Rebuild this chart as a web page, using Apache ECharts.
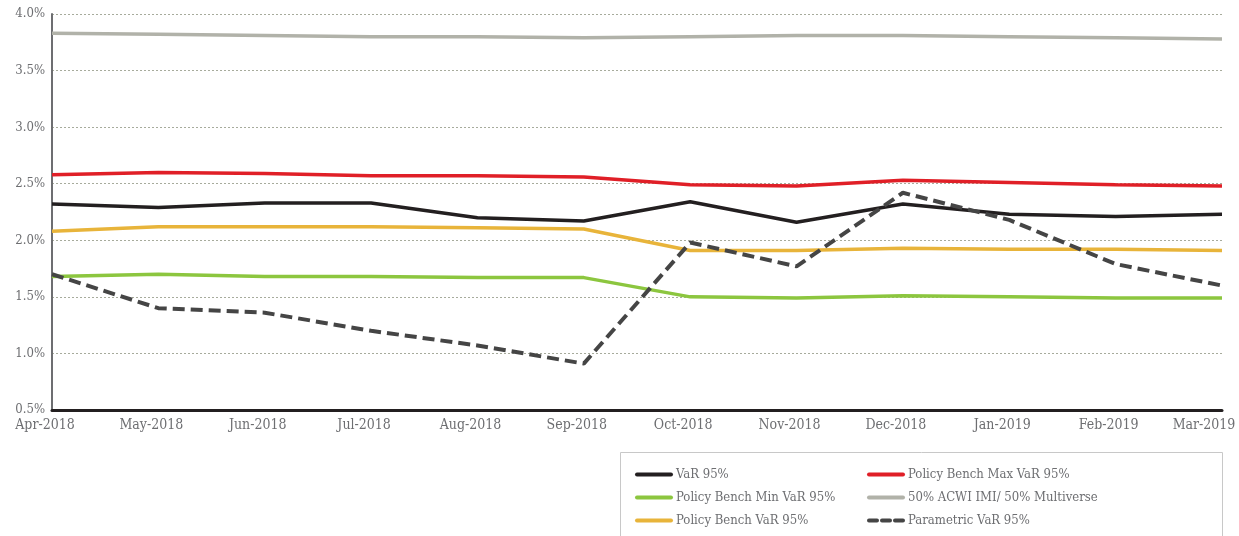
<!DOCTYPE html>
<html lang="en">
<head>
    <meta charset="UTF-8">
    <script type="text/javascript" src="https://cdn.jsdelivr.net/npm/echarts@6/dist/echarts.min.js"></script>
    <style>
        html, body { margin: 0; padding: 0; background: #fff; }
        #VarChart { width: 1239px; height: 536px; }
    </style>
</head>
<body>
    <div id="VarChart"></div>
</body>
<script>
    // months
    var months = ["Apr-2018", "May-2018", "Jun-2018", "Jul-2018", "Aug-2018", "Sep-2018",
                  "Oct-2018", "Nov-2018", "Dec-2018", "Jan-2019", "Feb-2019", "Mar-2019"];

    // values in %
    var varValues       = [2.32, 2.29, 2.33, 2.33, 2.20, 2.17, 2.34, 2.16, 2.32, 2.23, 2.21, 2.23];
    var benchMaxValues  = [2.58, 2.60, 2.59, 2.57, 2.57, 2.56, 2.49, 2.48, 2.53, 2.51, 2.49, 2.48];
    var benchMinValues  = [1.68, 1.70, 1.68, 1.68, 1.67, 1.67, 1.50, 1.49, 1.51, 1.50, 1.49, 1.49];
    var acwiValues      = [3.83, 3.82, 3.81, 3.80, 3.80, 3.79, 3.80, 3.81, 3.81, 3.80, 3.79, 3.78];
    var benchVarValues  = [2.08, 2.12, 2.12, 2.12, 2.11, 2.10, 1.91, 1.91, 1.93, 1.92, 1.92, 1.91];
    var parametricValues = [1.70, 1.40, 1.36, 1.20, 1.07, 0.91, 1.98, 1.77, 2.42, 2.18, 1.79, 1.60];

    var labelFont = "'DejaVu Serif Condensed', 'DejaVu Serif', serif";

    function lineSeries(name, data, color, dashed) {
        return {
            name: name,
            type: "line",
            data: data,
            symbol: "none",
            smooth: false,
            lineStyle: {
                color: color,
                width: dashed ? 4 : 3.5,
                type: dashed ? [12, 6] : "solid"
            },
            itemStyle: { color: color }
        };
    }

    var legendBase = {
        orient: "vertical",
        top: 463,
        height: 80,
        itemWidth: 34,
        itemHeight: 14,
        itemGap: 10,
        itemStyle: { opacity: 0 },
        lineStyle: { width: 4, cap: "round" },
        textStyle: { color: "#6d6e71", fontFamily: labelFont, fontSize: 13 }
    };

    var VarChart = echarts.init(document.getElementById("VarChart"));
    var option = {
        animation: false,
        grid: { left: 52, right: 17, top: 14, bottom: 126, containLabel: false, outerBoundsMode: "none" },
        xAxis: {
            type: "category",
            data: months,
            boundaryGap: false,
            axisLine: { lineStyle: { color: "#231f20", width: 3 } },
            axisTick: { show: false },
            axisLabel: {
                color: "#6d6e71",
                fontFamily: labelFont,
                fontSize: 14,
                margin: 8,
                padding: [0, 14, 0, 0],
                interval: 0,
                formatter: function (v, i) {
                    return i === months.length - 1 ? "{last|" + v + "}" : v;
                },
                rich: {
                    last: {
                        color: "#6d6e71",
                        fontFamily: labelFont,
                        fontSize: 14,
                        padding: [0, 22, 0, 0]
                    }
                }
            },
            splitLine: { show: false }
        },
        yAxis: {
            type: "value",
            min: 0.5,
            max: 4.0,
            interval: 0.5,
            axisLine: { show: true, lineStyle: { color: "#6d6e71", width: 2 } },
            axisTick: { show: false },
            axisLabel: {
                color: "#6d6e71",
                fontFamily: labelFont,
                fontSize: 13,
                margin: 7,
                formatter: function (v) { return v.toFixed(1) + "%"; }
            },
            splitLine: { lineStyle: { color: "#a7ab9c", type: [2, 2], width: 1 } }
        },
        legend: [
            Object.assign({}, legendBase, {
                left: 630,
                data: ["VaR 95%", "Policy Bench Min VaR 95%", "Policy Bench VaR 95%"]
            }),
            Object.assign({}, legendBase, {
                left: 862,
                data: ["Policy Bench Max VaR 95%", "50% ACWI IMI/ 50% Multiverse",
                       { name: "Parametric VaR 95%", lineStyle: { type: [8, 5], width: 4 } }]
            })
        ],
        graphic: [
            {
                type: "rect",
                left: 620,
                top: 452,
                z: -1,
                shape: { width: 602, height: 100 },
                style: { fill: "#fff", stroke: "#c8c8c8", lineWidth: 1 }
            }
        ],
        series: [
            lineSeries("50% ACWI IMI/ 50% Multiverse", acwiValues, "#b1b2a9", false),
            lineSeries("Policy Bench Max VaR 95%", benchMaxValues, "#e01f27", false),
            lineSeries("Policy Bench VaR 95%", benchVarValues, "#e8b43a", false),
            lineSeries("Policy Bench Min VaR 95%", benchMinValues, "#8cc63f", false),
            lineSeries("VaR 95%", varValues, "#231f20", false),
            lineSeries("Parametric VaR 95%", parametricValues, "#454545", true)
        ]
    };
    VarChart.setOption(option);
</script>
</html>
